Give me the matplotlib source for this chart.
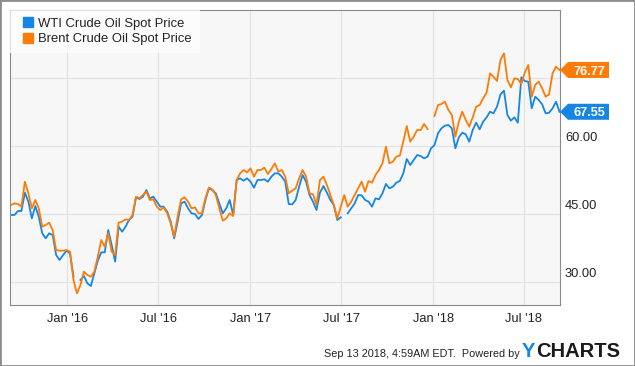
import numpy as np
import pandas as pd
import matplotlib
matplotlib.use("Agg")
import matplotlib.pyplot as plt
import matplotlib.transforms as mtransforms
from matplotlib.patches import Polygon, Rectangle
from matplotlib.lines import Line2D

# weekly spot prices, Sep 2015 - Sep 2018 (None = no data)
wti = [44.78, 44.78, 45.66, 45.66, 49.71, 47.72, 44.04, 46.76, 44.41, 40.74,
       39.63, 40.74, 40.37, 35.96, 34.85, 35.96, 36.91, 36.32, 31.18, None,
       30.44, 31.32, 29.71, 29.12, 31.91, 34.71, 36.54, 36.54, 41.47, 38.16,
       34.49, 42.21, 41.10, 42.21, 43.68, 44.41, 48.68, 48.31, 48.82, 50.29,
       48.46, 48.82, 47.72, 46.62, 46.62, 45.51, 43.31, 39.63, 43.31, 47.35,
       47.72, 46.25, 45.15, 45.00, 43.90, 44.78, 48.09, 50.66, 50.29, 49.56,
       47.35, 45.15, 46.25, 48.09, 44.78, 52.50, 52.87, 52.35, 52.87, 52.13,
       50.81, 52.50, 52.50, 52.65, 52.13, 53.24, 53.97, 53.97, 53.24, 52.13,
       47.21, 47.13, 48.09, 51.03, 53.60, 52.13, 49.19, 47.72, 45.88, 49.71,
       51.18, 49.71, 48.09, 46.99, 43.68, 44.27, None, 45.15, 46.25, 47.35,
       49.19, 49.12, 48.09, 47.72, 46.62, 48.46, 48.24, 49.56, 51.62, 50.66,
       51.03, 51.91, 52.28, 53.97, 57.13, 55.81, 56.91, 58.01, 57.79, 57.28,
       57.65, 59.49, 60.22, 62.79, 63.90, 64.49, 64.63, 63.90, 59.49, 61.91,
       62.94, 62.57, 60.96, 63.53, 65.15, 63.68, 65.37, 66.32, 67.57, 67.21,
       68.68, 71.40, 72.21, 66.84, 65.59, 66.32, 65.15, 75.15, 74.34, 74.19,
       68.31, 70.88, 70.15, 69.19, 67.21, 67.35, 68.31, 69.78, 67.55]

brent = [46.99, 47.35, 47.21, 46.62, 52.13, 49.56, 46.25, 48.09, 46.25, 42.21,
         42.57, 43.09, 41.47, 37.06, 36.91, 36.91, 37.06, 36.69, 30.44, 27.50,
         29.34, 32.28, 31.54, 31.18, 32.28, 35.59, 39.26, 37.79, 40.74, 36.69,
         35.96, 43.09, 43.31, 43.82, 43.68, 44.78, 48.82, 48.46, 49.19, 49.93,
         48.09, 48.24, 46.62, 45.88, 46.47, 45.15, 42.94, 40.00, 44.41, 48.24,
         48.68, 47.72, 46.25, 46.47, 45.15, 45.15, 48.46, 50.81, 50.44, 49.19,
         46.25, 43.53, 44.04, 45.15, 44.56, 52.50, 53.97, 54.71, 54.19, 55.07,
         53.24, 54.71, 54.71, 55.22, 53.82, 54.93, 56.18, 54.34, 54.71, 53.24,
         49.56, 50.15, 50.66, 52.87, 54.71, 53.24, 49.56, 49.34, 46.99, 52.50,
         53.24, 51.40, 49.19, 46.99, 44.04, 46.62, 49.19, 46.62, 47.72, 49.19,
         50.66, 52.13, 49.93, 52.28, 51.91, 53.60, 54.71, 56.18, 59.85, 56.18,
         56.54, 57.65, 57.87, 60.96, 64.41, 60.96, 62.06, 63.53, 63.53, 64.85,
         63.75, None, 66.62, 69.04, 69.26, 69.78, 67.94, 66.84, 62.06, 65.37,
         67.57, 65.74, 64.26, 66.32, 68.68, 69.04, 70.51, 71.76, 76.03, 75.29,
         74.34, 78.97, 80.44, 74.56, 72.94, 74.93, 74.78, 73.68, 76.18, 77.87,
         70.88, 73.46, 74.19, 72.72, 70.88, 71.40, 76.03, 77.50, 76.77]

series_names = ["WTI Crude Oil Spot Price", "Brent Crude Oil Spot Price"]
tick_dates = ["2016-01-01", "2016-07-01", "2017-01-01", "2017-07-01", "2018-01-01", "2018-07-01"]
tick_labels = ["Jan '16", "Jul '16", "Jan '17", "Jul '17", "Jan '18", "Jul '18"]
y_grid = [30, 45, 60, 75]
y_labels = [30, 45, 60]
footer = "Sep 13 2018, 4:59AM EDT.  Powered by"

BLUE = "#1686e6"
ORANGE = "#fd7c07"
FONT = "Liberation Sans"
plt.rcParams["font.family"] = FONT

dates = pd.date_range("2015-09-11", "2018-09-10", periods=len(wti))
wti_arr = np.array(wti, dtype=float)
brent_arr = np.array(brent, dtype=float)

fig = plt.figure(figsize=(6.35, 3.66), dpi=100)
ax = fig.add_axes([10 / 635, 61 / 366, 550 / 635, 295 / 366])
ax.set_facecolor("#f7f7f7")

ax.plot(dates, wti_arr, color=BLUE, lw=1.3)
ax.plot(dates, brent_arr, color=ORANGE, lw=1.3)

ax.set_xlim(pd.Timestamp("2015-09-09"), pd.Timestamp("2018-09-11"))
ax.set_ylim(24.93, 90.0)

ax.set_xticks(pd.to_datetime(tick_dates))
ax.set_xticklabels(tick_labels)
ax.set_yticks(y_grid)
ax.set_yticklabels([])
ax.yaxis.tick_right()
ax.tick_params(axis="both", length=0)
ax.tick_params(axis="x", pad=5.5, labelsize=9.3, labelcolor="#222222")
ax.grid(True, color="#e3e3e3", lw=0.9)
ax.set_axisbelow(True)
for sp in ax.spines.values():
    sp.set_color("#8a8a8a")
    sp.set_linewidth(0.8)

# y labels sit just above their gridlines, right of the plot
ylab_tr = mtransforms.offset_copy(ax.get_yaxis_transform(), fig=fig, x=5, y=5.5, units="dots")
for v in y_labels:
    ax.text(1.0, v, f"{v:.2f}", transform=ylab_tr, ha="left", va="baseline",
            fontsize=9.3, color="#222222", clip_on=False)

handles = [Line2D([], [], marker="s", color=c, linestyle="none", markersize=6.5)
           for c in (BLUE, ORANGE)]
leg = ax.legend(handles, series_names, loc="upper left", bbox_to_anchor=(0, 1),
                borderaxespad=0, frameon=True, fancybox=False, framealpha=0.75,
                facecolor="white", edgecolor="none", fontsize=9.4,
                handlelength=1.5, handletextpad=0.05, labelspacing=0.25, borderpad=0.6)
for t in leg.get_texts():
    t.set_color("#222222")


# last-value tags on the right axis
def value_tag(value, color):
    x0, y0 = ax.get_yaxis_transform().transform((1.0, value))
    tr = mtransforms.Affine2D().translate(x0, y0)
    h = 8
    poly = Polygon([(0, 0), (8, h), (49, h), (49, -h), (8, -h)], closed=True,
                   transform=tr, facecolor=color, edgecolor="none", clip_on=False)
    fig.add_artist(poly)
    fig.text(29, -4.6, f"{value:.2f}", transform=tr, ha="center", va="baseline",
             fontsize=9.2, fontweight="bold", color="white")


value_tag(brent_arr[-1], ORANGE)
value_tag(wti_arr[-1], BLUE)

# footer
fig.text(520 / 635, 1 - 357 / 366, footer, ha="right", va="baseline",
         fontsize=7.8, color="#222222")
fig.text(522 / 635, 1 - 357 / 366, "Y", ha="left", va="baseline",
         fontsize=14.5, fontweight="bold", color=BLUE)
fig.text(536 / 635, 1 - 357 / 366, "CHARTS", ha="left", va="baseline",
         fontsize=14.5, fontweight="bold", color="#1a1a1a")

fig.add_artist(Rectangle((0, 0), 1, 1, transform=fig.transFigure, fill=False,
                         edgecolor="#8c8c8c", lw=2.0, clip_on=False))

fig.savefig("out.png", dpi=100, facecolor="white")
